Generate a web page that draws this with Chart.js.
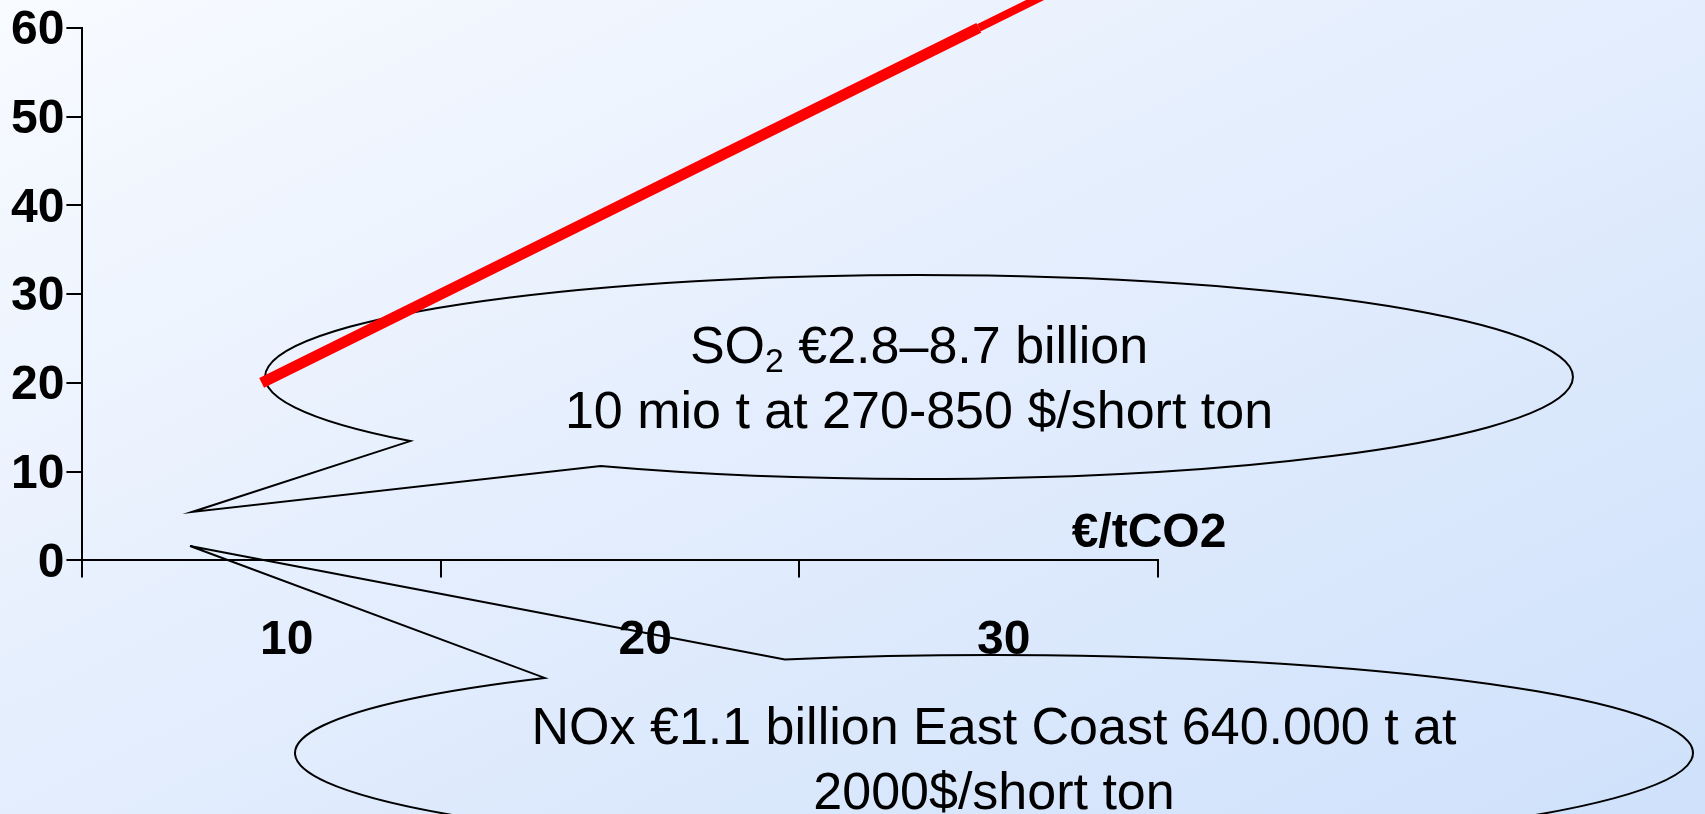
<!DOCTYPE html>
<html>
<head>
<meta charset="utf-8">
<script src="https://cdn.jsdelivr.net/npm/chart.js@4.4.0/dist/chart.umd.min.js"></script>
<style>
  html, body { margin: 0; padding: 0; overflow: hidden; }
  body {
    width: 1705px;
    height: 814px;
    background: linear-gradient(to bottom right, #f8fbff 0%, #e3edfd 50%, #cfe1fb 100%);
  }
  canvas { display: block; }
</style>
</head>
<body>
<canvas id="grafico" width="1705" height="814"></canvas>
<script>
// categories on the x axis (€/tCO2) and the cost series
const categories = ['10', '20', '30'];
const costValues = [20, 40, 60];
// the red line keeps going past the last category, up off the top
const costExtension = [{ x: 30, y: 60 }, { x: 33, y: 66 }];
const yTicks = [0, 10, 20, 30, 40, 50, 60];
const xTitle = '€/tCO2';

const FONT = "'Liberation Sans', Arial, sans-serif";

// speech bubbles (ellipse + pointed tail), canvas pixels
const bubbles = [
    {
        cx: 919, cy: 377, rx: 654, ry: 102,
        baseA: [411, 441], baseB: [601, 466], tip: [192, 512],
        lines: [
            { y: 363, parts: [['SO', 0], ['2', 1], [' €2.8–8.7 billion', 0]] },
            { y: 428, parts: [['10 mio t at 270-850 $/short ton', 0]] }
        ]
    },
    {
        cx: 994, cy: 753, rx: 699, ry: 98,
        baseA: [551, 679], baseB: [786, 660], tip: [190, 546],
        lines: [
            { y: 744, parts: [['NOx €1.1 billion East Coast 640.000 t at', 0]] },
            { y: 809, parts: [['2000$/short ton', 0]] }
        ]
    }
];

function drawBubble(ctx, b) {
    const angle = p => Math.atan2((p[1] - b.cy) / b.ry, (p[0] - b.cx) / b.rx);
    let a = angle(b.baseA);
    let c = angle(b.baseB);
    const full = Math.PI * 2;
    const d = (((c - a) % full) + full) % full;
    if (d < Math.PI) { const t = a; a = c; c = t; }

    ctx.beginPath();
    ctx.ellipse(b.cx, b.cy, b.rx, b.ry, 0, a, c, false);
    ctx.lineTo(b.tip[0], b.tip[1]);
    ctx.closePath();
    ctx.lineWidth = 2;
    ctx.strokeStyle = '#000';
    ctx.stroke();

    // text, subscripts drawn smaller and lower
    const size = 52;
    ctx.fillStyle = '#000';
    ctx.textBaseline = 'alphabetic';
    ctx.textAlign = 'left';
    b.lines.forEach(line => {
        let width = 0;
        line.parts.forEach(([txt, sub]) => {
            ctx.font = (sub ? size * 0.65 : size) + 'px ' + FONT;
            width += ctx.measureText(txt).width;
        });
        let x = b.cx - width / 2;
        line.parts.forEach(([txt, sub]) => {
            ctx.font = (sub ? size * 0.65 : size) + 'px ' + FONT;
            ctx.fillText(txt, x, line.y + (sub ? size * 0.18 : 0));
            x += ctx.measureText(txt).width;
        });
    });
}

const bubblePlugin = {
    id: 'bubbles',
    beforeDatasetsDraw(chart) {
        const ctx = chart.ctx;
        ctx.save();
        bubbles.forEach(b => drawBubble(ctx, b));
        ctx.restore();
    },
    afterDraw(chart) {
        // axis unit written above the right end of the x axis
        const ctx = chart.ctx;
        const xs = chart.scales.x;
        ctx.save();
        ctx.font = 'bold 48px ' + FONT;
        ctx.fillStyle = '#000';
        ctx.textAlign = 'center';
        ctx.textBaseline = 'alphabetic';
        ctx.fillText(xTitle, xs.right - 9, xs.top - 13);
        ctx.restore();
    }
};

const ctx = document.getElementById('grafico').getContext('2d');
const grafico = new Chart(ctx, {
    type: 'line',
    data: {
        labels: categories,
        datasets: [{
            data: costValues,
            xAxisID: 'x',
            yAxisID: 'y',
            borderColor: '#ff0000',
            borderWidth: 11,
            pointRadius: 0,
            tension: 0,
            clip: false
        }, {
            data: costExtension,
            xAxisID: 'xLine',
            yAxisID: 'y',
            borderColor: '#ff0000',
            borderWidth: 8,
            pointRadius: 0,
            tension: 0,
            clip: false
        }]
    },
    options: {
        responsive: false,
        animation: false,
        events: [],
        layout: {
            padding: { left: 9, right: 547, top: 0, bottom: 109 }
        },
        plugins: {
            legend: { display: false },
            tooltip: { enabled: false }
        },
        scales: {
            x: {
                type: 'category',
                offset: true,
                grid: {
                    offset: true,
                    drawOnChartArea: false,
                    tickLength: 17,
                    color: '#000',
                    lineWidth: 2
                },
                border: { color: '#000', width: 2 },
                ticks: {
                    color: '#000',
                    font: { family: FONT, size: 48, weight: 'bold', lineHeight: 1.2 },
                    padding: 35,
                    labelOffset: 25,
                    maxRotation: 0,
                    autoSkip: false
                }
            },
            xLine: {
                type: 'linear',
                axis: 'x',
                position: 'bottom',
                display: false,
                min: 5,
                max: 35
            },
            y: {
                min: yTicks[0],
                max: yTicks[yTicks.length - 1],
                afterBuildTicks: axis => {
                    axis.ticks = yTicks.map(v => ({ value: v }));
                },
                grid: {
                    drawOnChartArea: false,
                    tickLength: 16,
                    color: '#000',
                    lineWidth: 2
                },
                border: { color: '#000', width: 2 },
                ticks: {
                    color: '#000',
                    font: { family: FONT, size: 48, weight: 'bold', lineHeight: 1.08 },
                    padding: 2,
                    labelOffset: 3
                }
            }
        }
    },
    plugins: [bubblePlugin]
});
</script>
</body>
</html>
